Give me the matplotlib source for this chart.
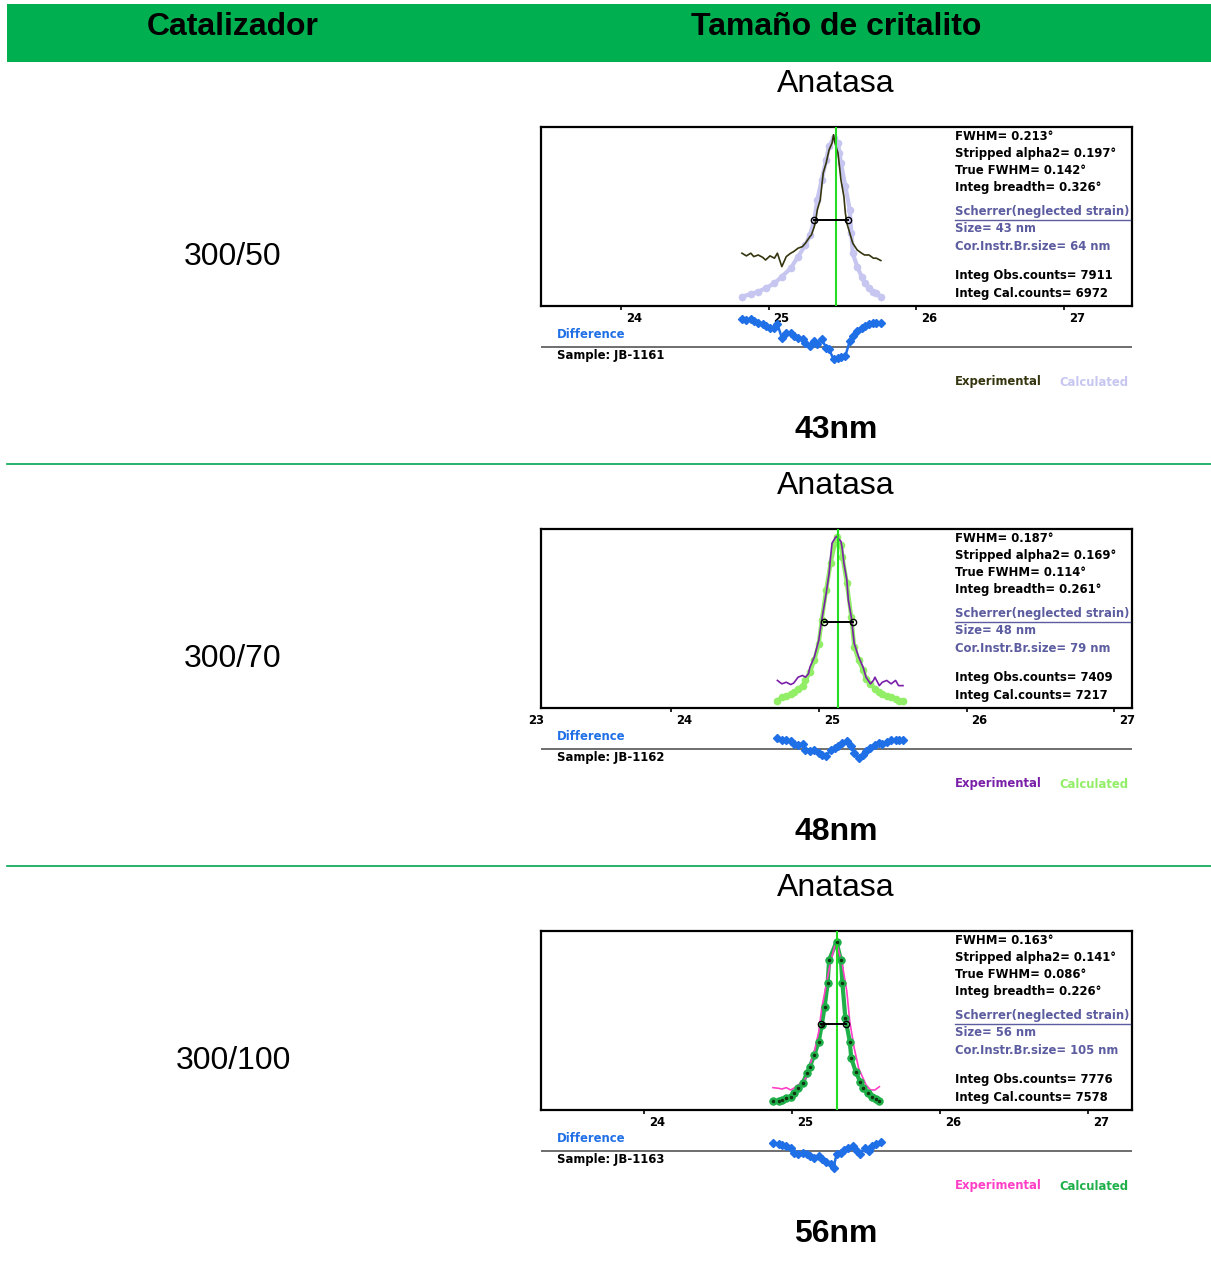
import matplotlib
matplotlib.use("Agg")
import matplotlib.pyplot as plt
from matplotlib.patches import Rectangle
from matplotlib.transforms import ScaledTranslation, blended_transform_factory

# ---------------- data ----------------
HEADERS = ["Catalizador", "Tamaño de critalito"]
CATALYSTS = ["300/50", "300/70", "300/100"]
PHASE = "Anatasa"
RESULTS = ["43nm", "48nm", "56nm"]
SAMPLES = ["JB-1161", "JB-1162", "JB-1163"]

FWHM = [0.213, 0.187, 0.163]
STRIPPED = [0.197, 0.169, 0.141]
TRUE_FWHM = [0.142, 0.114, 0.086]
INTEG_BREADTH = [0.326, 0.261, 0.226]
SIZE_NM = [43, 48, 56]
COR_SIZE_NM = [64, 79, 105]
OBS_COUNTS = [7911, 7409, 7776]
CAL_COUNTS = [6972, 7217, 7578]

XLIMS = [(23.46, 27.46), (23.12, 27.12), (23.30, 27.30)]
XTICKS = [[24, 25, 26, 27], [23, 24, 25, 26, 27], [24, 25, 26, 27]]
PEAK_POS = [25.456, 25.128, 25.30]
FWHM_BAR = [(25.31, 25.535, 48.1), (25.037, 25.229, 47.8), (25.196, 25.367, 48.2)]

R1_EXP_X = [24.82, 24.85, 24.88, 24.90, 24.93, 24.96, 24.98, 25.01, 25.04, 25.06, 25.09, 25.12,
            25.15, 25.17, 25.20, 25.23, 25.25, 25.28, 25.29, 25.31, 25.32, 25.33, 25.35, 25.36,
            25.37, 25.39, 25.40, 25.41, 25.43, 25.44, 25.45, 25.47, 25.48, 25.49, 25.51, 25.52,
            25.53, 25.55, 25.57, 25.60, 25.63, 25.65, 25.68, 25.71, 25.73, 25.76]
R1_EXP_Y = [29.5, 28.0, 29.5, 27.6, 28.5, 27.2, 25.7, 28.0, 26.7, 29.5, 22.0, 27.6,
            29.5, 30.4, 32.3, 33.2, 35.1, 38.8, 39.7, 44.4, 48.1, 53.7, 59.3, 66.8,
            74.3, 79.9, 83.6, 87.3, 91.0, 95.7, 91.0, 85.4, 78.0, 70.5, 61.2, 51.9,
            46.3, 40.7, 35.1, 31.3, 29.5, 28.5, 28.5, 26.7, 26.7, 25.4]
R1_CAL_X = [24.82, 24.88, 24.93, 24.98, 25.04, 25.09, 25.15, 25.20, 25.25, 25.28, 25.31, 25.33,
            25.36, 25.39, 25.41, 25.44, 25.47, 25.48, 25.49, 25.52, 25.55, 25.56, 25.57, 25.60,
            25.63, 25.65, 25.68, 25.71, 25.73, 25.76]
R1_CAL_Y = [5.2, 6.7, 8.0, 9.9, 12.7, 16.4, 21.1, 27.6, 34.1, 39.7, 48.1, 59.3,
            70.5, 81.7, 89.2, 93.8, 91.0, 85.4, 79.9, 66.8, 53.7, 40.7, 29.5, 22.0,
            16.4, 12.7, 9.9, 8.0, 7.1, 5.2]
R1_DIF_X = [24.82, 24.85, 24.88, 24.90, 24.93, 24.96, 24.98, 25.01, 25.04, 25.06, 25.09, 25.12,
            25.15, 25.17, 25.20, 25.23, 25.25, 25.28, 25.31, 25.33, 25.36, 25.39, 25.41, 25.44,
            25.47, 25.49, 25.52, 25.55, 25.57, 25.60, 25.63, 25.65, 25.68, 25.71, 25.73, 25.76]
R1_DIF_Y = [15.5, 15.1, 15.5, 14.5, 13.6, 12.7, 11.7, 10.8, 10.8, 12.7, 5.2, 8.0,
            8.0, 6.1, 5.2, 4.3, 2.4, 0.6, 3.4, 1.5, 4.3, -0.4, -1.3, -6.9,
            -6.0, -5.4, -5.0, 3.4, 6.1, 8.9, 10.8, 11.7, 12.7, 13.2, 13.6, 13.6]

R2_EXP_X = [24.72, 24.75, 24.78, 24.81, 24.83, 24.86, 24.89, 24.91, 24.93, 24.94, 24.97, 25.00,
            25.02, 25.05, 25.07, 25.08, 25.09, 25.11, 25.12, 25.13, 25.15, 25.16, 25.17, 25.19,
            25.20, 25.22, 25.23, 25.24, 25.27, 25.30, 25.32, 25.35, 25.37, 25.38, 25.41, 25.43,
            25.46, 25.49, 25.52, 25.54, 25.57]
R2_EXP_Y = [15.4, 13.5, 14.4, 13.1, 13.9, 17.2, 18.2, 17.2, 19.1, 22.8, 28.5, 37.8,
            49.1, 64.0, 75.3, 84.6, 92.1, 94.9, 95.9, 94.9, 93.1, 88.4, 80.9, 71.5,
            60.3, 50.9, 43.4, 36.0, 28.5, 22.8, 17.2, 13.5, 15.4, 17.2, 12.5, 14.4,
            15.4, 13.5, 15.4, 12.5, 12.5]
R2_CAL_X = [24.72, 24.75, 24.78, 24.81, 24.83, 24.86, 24.89, 24.91, 24.94, 24.97, 25.00, 25.02,
            25.05, 25.08, 25.11, 25.12, 25.15, 25.16, 25.19, 25.22, 25.24, 25.27, 25.30, 25.32,
            25.35, 25.38, 25.41, 25.43, 25.46, 25.49, 25.52, 25.54, 25.57]
R2_CAL_Y = [4.1, 6.0, 6.6, 7.9, 8.8, 10.7, 12.5, 15.4, 20.0, 26.6, 36.0, 49.1,
            65.9, 80.9, 92.1, 95.5, 91.2, 84.6, 69.7, 50.9, 34.1, 26.6, 21.0, 16.3,
            13.5, 10.7, 8.8, 7.9, 6.9, 6.0, 5.1, 4.1, 4.1]
R2_DIF_X = [24.72, 24.75, 24.78, 24.81, 24.83, 24.86, 24.89, 24.91, 24.94, 24.97, 25.00, 25.02,
            25.05, 25.08, 25.11, 25.13, 25.16, 25.19, 25.22, 25.24, 25.27, 25.30, 25.32, 25.35,
            25.38, 25.41, 25.43, 25.46, 25.49, 25.52, 25.54, 25.57]
R2_DIF_Y = [6.2, 5.3, 4.9, 4.3, 3.0, 2.4, 3.0, -0.4, -1.3, -0.4, -2.3, -3.2,
            -4.1, -0.4, 0.6, 1.5, 3.4, 4.3, 1.5, -2.3, -5.1, -3.2, -1.3, 0.6,
            2.4, 3.4, 3.0, 3.8, 4.9, 5.3, 4.9, 5.3]

R3_EXP_X = [24.87, 24.91, 24.93, 24.96, 24.99, 25.01, 25.04, 25.07, 25.10, 25.12, 25.15, 25.18,
            25.20, 25.23, 25.26, 25.29, 25.30, 25.31, 25.34, 25.37, 25.39, 25.42, 25.45, 25.48,
            25.50, 25.53, 25.56, 25.59]
R3_EXP_Y = [12.5, 12.1, 11.7, 12.5, 11.2, 12.1, 14.0, 15.8, 18.6, 25.1, 32.6, 43.8,
            56.8, 69.8, 82.9, 92.2, 94.0, 90.3, 81.0, 66.1, 49.3, 34.5, 23.3, 17.7,
            14.0, 11.2, 11.2, 13.0]
R3_CAL_X = [24.87, 24.91, 24.93, 24.96, 24.99, 25.01, 25.04, 25.07, 25.10, 25.12, 25.15, 25.18,
            25.20, 25.22, 25.24, 25.25, 25.30, 25.33, 25.34, 25.36, 25.39, 25.40, 25.43, 25.46,
            25.48, 25.51, 25.54, 25.57, 25.59]
R3_CAL_Y = [5.0, 5.2, 5.6, 6.5, 7.4, 9.3, 12.1, 14.9, 20.5, 24.2, 30.7, 38.2,
            47.5, 57.7, 70.8, 83.8, 94.0, 83.8, 70.8, 51.2, 38.2, 28.9, 21.4, 15.8,
            12.1, 9.3, 7.4, 6.1, 5.0]
R3_DIF_X = [24.87, 24.91, 24.93, 24.96, 24.99, 25.01, 25.04, 25.07, 25.10, 25.12, 25.15, 25.18,
            25.20, 25.23, 25.26, 25.28, 25.30, 25.33, 25.35, 25.38, 25.41, 25.44, 25.46, 25.49,
            25.52, 25.54, 25.57, 25.60]
R3_DIF_Y = [4.7, 3.7, 3.4, 2.8, 1.5, -0.9, -1.9, -0.9, -1.9, -2.8, -3.7, -2.8,
            -4.7, -6.0, -7.4, -9.3, -1.9, -0.9, 0.4, 1.9, 2.8, 0.0, -1.9, 1.9,
            0.0, 2.8, 3.7, 5.2]

EXP = [(R1_EXP_X, R1_EXP_Y), (R2_EXP_X, R2_EXP_Y), (R3_EXP_X, R3_EXP_Y)]
CAL = [(R1_CAL_X, R1_CAL_Y), (R2_CAL_X, R2_CAL_Y), (R3_CAL_X, R3_CAL_Y)]
DIF = [(R1_DIF_X, R1_DIF_Y), (R2_DIF_X, R2_DIF_Y), (R3_DIF_X, R3_DIF_Y)]

# ---------------- style ----------------
EXP_COLORS = ["#35350f", "#7a1fa8", "#ff3fc6"]
CAL_COLORS = ["#c6c6f0", "#92ee66", "#20b04a"]
DIFF_COLOR = "#1f6fe6"
STAT_BLUE = "#5c5ca0"
GREEN_HDR = "#00b050"
GREEN_LINE = "#00a650"
PEAK_GREEN = "#22dd22"

W, H = 1211, 1264
fig = plt.figure(figsize=(W / 100, H / 100), dpi=100)
fig.patch.set_facecolor("white")

bg = fig.add_axes([0, 0, 1, 1])
bg.set_xlim(0, W)
bg.set_ylim(H, 0)
bg.axis("off")

BIG = "Liberation Sans"
SMALL = "DejaVu Sans"
BIGSIZE = 23
SMALLSIZE = 8.4

# header
bg.add_patch(Rectangle((7, 4), W - 7, 58, facecolor=GREEN_HDR, edgecolor="none"))
bg.text(233, 35, HEADERS[0], ha="center", va="baseline", fontsize=BIGSIZE, fontweight="bold", family=BIG)
bg.text(836, 35, HEADERS[1], ha="center", va="baseline", fontsize=BIGSIZE, fontweight="bold", family=BIG)

for yline in (464, 866):
    bg.plot([7, W], [yline, yline], color=GREEN_LINE, lw=1.2)


def px_axes(x0, y0, x1, y1):
    return fig.add_axes([x0 / W, 1 - y1 / H, (x1 - x0) / W, (y1 - y0) / H])


BOX_X0, BOX_X1 = 541, 1132
ROW_STEP = 402

for i in range(3):
    dy = i * ROW_STEP
    bg.text(836, 92 + dy, PHASE, ha="center", va="baseline", fontsize=BIGSIZE, family=BIG)
    bg.text(233, 265 + dy, CATALYSTS[i], ha="center", va="baseline", fontsize=BIGSIZE, family=BIG)
    bg.text(836, 438 + dy, RESULTS[i], ha="center", va="baseline", fontsize=BIGSIZE,
            fontweight="bold", family=BIG)

    # main peak axes
    ax = px_axes(BOX_X0, 127 + dy, BOX_X1, 306 + dy)
    ax.set_xlim(*XLIMS[i])
    ax.set_ylim(0, 100)
    for s in ax.spines.values():
        s.set_linewidth(1.6)
        s.set_color("black")
    ax.set_yticks([])
    vis_ticks = [t for t in XTICKS[i] if XLIMS[i][0] <= t <= XLIMS[i][1]]
    ax.set_xticks(vis_ticks)
    ax.tick_params(axis="x", direction="out", length=3, width=1.2, labelbottom=False)
    trans = blended_transform_factory(ax.transData, ax.transAxes)
    off = ScaledTranslation(13 / 100, -12 / 100, fig.dpi_scale_trans)
    for t in XTICKS[i]:
        ax.text(t, 0, str(t), transform=trans + off, ha="center", va="center",
                fontsize=SMALLSIZE, fontweight="bold", family=SMALL, color="black", clip_on=False)

    cx, cy = CAL[i]
    ex, ey = EXP[i]
    ax.plot(cx, cy, color=CAL_COLORS[i], lw=3, zorder=2)
    ax.plot(cx, cy, "o", color=CAL_COLORS[i], ms=4.5, zorder=2)
    ax.plot(ex, ey, color=EXP_COLORS[i], lw=1.2, zorder=3)
    if i == 2:
        ax.plot(cx, cy, "o", color=CAL_COLORS[i], ms=5, zorder=4)
        ax.plot(cx, cy, ".", color="#113311", ms=3, zorder=5)
    ax.axvline(PEAK_POS[i], color=PEAK_GREEN, lw=1.5, zorder=4)
    x1, x2, yb = FWHM_BAR[i]
    ax.plot([x1, x2], [yb, yb], "-o", color="black", lw=1.4, ms=4.5, mfc="none", mew=1.0, zorder=6)

    # stats text
    tx = (955 - BOX_X0) / (BOX_X1 - BOX_X0)

    def yfr(o):
        return 1 - o / 179

    lines = [
        (9, f"FWHM= {FWHM[i]:.3f}°", "black"),
        (26, f"Stripped alpha2= {STRIPPED[i]:.3f}°", "black"),
        (43, f"True FWHM= {TRUE_FWHM[i]:.3f}°", "black"),
        (60, f"Integ breadth= {INTEG_BREADTH[i]:.3f}°", "black"),
        (85, "Scherrer(neglected strain)", STAT_BLUE),
        (102, f"Size= {SIZE_NM[i]} nm", STAT_BLUE),
        (119, f"Cor.Instr.Br.size= {COR_SIZE_NM[i]} nm", STAT_BLUE),
        (149, f"Integ Obs.counts= {OBS_COUNTS[i]}", "black"),
        (166, f"Integ Cal.counts= {CAL_COUNTS[i]}", "black"),
    ]
    for o, s, c in lines:
        ax.text(tx, yfr(o), s, transform=ax.transAxes, ha="left", va="center",
                fontsize=SMALLSIZE, fontweight="bold", family=SMALL, color=c, zorder=7)
    ax.plot([tx, (1130 - BOX_X0) / (BOX_X1 - BOX_X0)], [yfr(92.5), yfr(92.5)],
            transform=ax.transAxes, color=STAT_BLUE, lw=1.0, zorder=7)

    # difference axes
    T, B = 310 + dy, 395 + dy
    base = 347 + dy
    dax = px_axes(BOX_X0, T, BOX_X1, B)
    dax.set_xlim(*XLIMS[i])
    dax.set_ylim(-(B - base) / 1.79, (base - T) / 1.79)
    dax.axis("off")
    dax.patch.set_alpha(0)
    dax.axhline(0, color="#555555", lw=1.2)
    dx, dyv = DIF[i]
    dax.plot(dx, dyv, color=DIFF_COLOR, lw=1.8)
    dax.plot(dx, dyv, "D", color=DIFF_COLOR, ms=4.2)

    bg.text(557, 335 + dy, "Difference", ha="left", va="center", fontsize=SMALLSIZE,
            fontweight="bold", family=SMALL, color=DIFF_COLOR)
    bg.text(557, 356 + dy, f"Sample: {SAMPLES[i]}", ha="left", va="center", fontsize=SMALLSIZE,
            fontweight="bold", family=SMALL, color="black")
    bg.text(955, 382 + dy, "Experimental", ha="left", va="center", fontsize=SMALLSIZE,
            fontweight="bold", family=SMALL, color=EXP_COLORS[i])
    bg.text(1059, 382 + dy, "Calculated", ha="left", va="center", fontsize=SMALLSIZE,
            fontweight="bold", family=SMALL, color=CAL_COLORS[i])

fig.savefig("out.png", dpi=100, facecolor="white")
